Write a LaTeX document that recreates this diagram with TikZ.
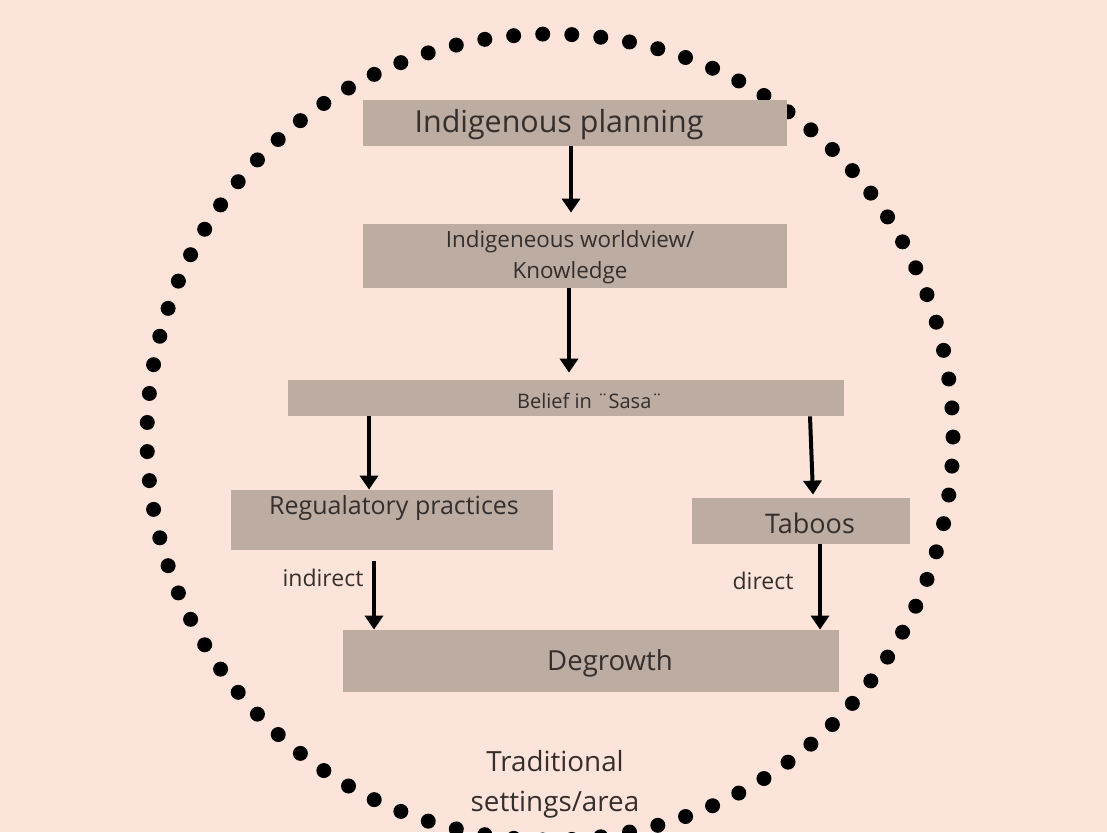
\documentclass[tikz,border=0pt]{standalone}
\usepackage{fontspec}
\setmainfont{Open Sans}
\usepackage{tikz}
\usetikzlibrary{arrows.meta,positioning}

\definecolor{peach}{RGB}{253,228,218}
\definecolor{taupe}{RGB}{188,172,162}
\definecolor{ink}{RGB}{52,46,44}

\begin{document}
\begin{tikzpicture}[
  x=0.5pt, y=-0.5pt,
  box/.style={rectangle, fill=taupe, inner sep=0pt},
  txt/.style={text=ink, align=center, inner sep=0pt},
  flow/.style={line width=2pt, -{Triangle[width=9pt,length=7pt]}},
  blob/.style={fill=black}
]
\useasboundingbox (0,0) rectangle (1107,832);
\clip (0,0) rectangle (1107,832);
% background and dotted border
\fill[peach] (0,0) rectangle (1107,832);
\foreach \i in {0,...,86}
  \fill[blob] ({550+403*cos(\i*4.1379)},{437+403*sin(\i*4.1379)}) circle (7.5);
% boxes
\node[box, minimum width=212pt, minimum height=23pt] (plan) at (575,123) {};
\node[box, minimum width=212pt, minimum height=32pt] (world) at (575,256) {};
\node[box, minimum width=278pt, minimum height=18pt] (belief) at (566,398) {};
\node[box, minimum width=161pt, minimum height=30pt] (reg) at (392,520) {};
\node[box, minimum width=109pt, minimum height=23pt] (taboo) at (801,521) {};
\node[box, minimum width=248pt, minimum height=31pt] (degrowth) at (591,661) {};
% texts
\node[txt, font=\fontsize{15.2}{17}\selectfont] (plantxt) at (559,125) {Indigenous planning};
\node[txt, font=\fontsize{11.2}{15.5}\selectfont] (worldtxt) at (570,257) {Indigeneous worldview/\\Knowledge};
\node[txt, font=\fontsize{10}{12}\selectfont] (belieftxt) at (590,401) {Belief in ¨Sasa¨};
\node[txt, font=\fontsize{12.5}{14}\selectfont] (regtxt) at (394,508) {Regualatory practices};
\node[txt, font=\fontsize{13.5}{15}\selectfont] (tabootxt) at (810,523) {Taboos};
\node[txt, font=\fontsize{13.8}{16}\selectfont] (degrowthtxt) at (610,663) {Degrowth};
\node[txt, font=\fontsize{11.5}{13}\selectfont] (indirect) at (323,578) {indirect};
\node[txt, font=\fontsize{11.5}{13}\selectfont] (direct) at (763,581) {direct};
\node[txt, font=\fontsize{13.9}{20}\selectfont] (setting) at (555,784) {Traditional\\settings/area};
% arrows
\draw[flow] ([xshift=-2pt]plan.south) -- ([xshift=-2pt, yshift=5.5pt]world.north);
\draw[flow] ([xshift=-3pt]world.south) -- ([xshift=1.5pt, yshift=3.5pt]belief.north);
\draw[flow] ([xshift=-98.5pt]belief.south) -- ([xshift=-11.5pt]reg.north);
\draw[flow] ([xshift=122pt]belief.south) -- ([xshift=6pt, yshift=1.5pt]taboo.north);
\draw[flow] ([xshift=-9pt, yshift=-5.5pt]reg.south) -- ([xshift=-108.5pt]degrowth.north);
\draw[flow] ([xshift=9.5pt]taboo.south) -- ([xshift=114.5pt]degrowth.north);
\end{tikzpicture}
\end{document}
